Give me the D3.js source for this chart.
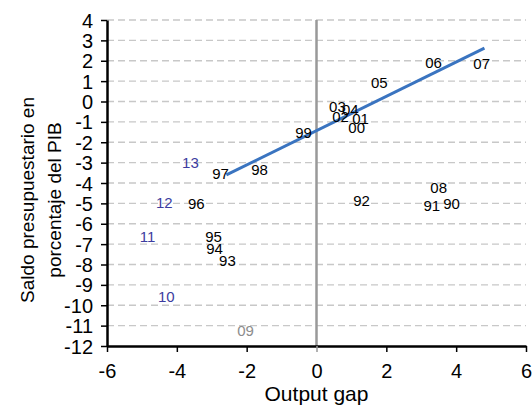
<!DOCTYPE html>
<html>
<head>
<meta charset="utf-8">
<script src="https://cdn.jsdelivr.net/npm/d3@7"></script>
<style>
  body { margin: 0; background: #fff; }
  text { font-family: "Liberation Sans", Arial, sans-serif; }
</style>
</head>
<body>
<div id="chart"></div>
<script>
// years shown as labels, with output gap (x) and budget balance (y)
var years = ["90","91","92","93","94","95","96","97","98","99","00","01","02","03","04","05","06","07","08","09","10","11","12","13"];
var gap = [3.87, 3.30, 1.29, -2.55, -2.92, -2.95, -3.44, -2.75, -1.63, -0.37, 1.15, 1.26, 0.69, 0.60, 0.97, 1.80, 3.35, 4.73, 3.50, -2.03, -4.30, -4.84, -4.36, -3.61];
var saldo = [-5.02, -5.12, -4.88, -7.82, -7.23, -6.64, -5.02, -3.55, -3.36, -1.54, -1.30, -0.86, -0.76, -0.27, -0.42, 0.91, 1.89, 1.84, -4.24, -11.25, -9.58, -6.64, -4.98, -3.01];
var labelColor = ["k","k","k","k","k","k","k","k","k","k","k","k","k","k","k","k","k","k","k","g","b","b","b","b"];
var trendX = [-2.58, 4.81];
var trendY = [-3.60, 2.62];
var xTicks = [-6, -4, -2, 0, 2, 4, 6];
var yTicks = d3.range(-12, 5, 1);

var width = 532, height = 411;
var margin = {left: 107, right: 6, top: 20, bottom: 65};

var svg = d3.select("#chart").append("svg")
    .attr("width", width).attr("height", height);

var x = d3.scaleLinear().domain([-6, 6]).range([margin.left, width - margin.right]);
var y = d3.scaleLinear().domain([-12, 4]).range([height - margin.bottom, margin.top]);

// dashed gridlines
svg.append("g").selectAll("line")
    .data(yTicks.filter(function (d) { return d > -12; }))
    .enter().append("line")
    .attr("x1", x(-6)).attr("x2", x(6))
    .attr("y1", function (d) { return y(d); })
    .attr("y2", function (d) { return y(d); })
    .style("stroke", "#c8c8c8")
    .style("stroke-width", 1.3)
    .style("stroke-dasharray", "7,4");

// vertical zero line
svg.append("line")
    .attr("x1", x(0)).attr("x2", x(0))
    .attr("y1", y(4)).attr("y2", y(-12))
    .style("stroke", "#999").style("stroke-width", 2.5);

// axes
var fmt = function (d) { return String(d); };
var xAxis = svg.append("g")
    .attr("transform", "translate(0," + y(-12) + ")")
    .call(d3.axisBottom(x).tickValues(xTicks).tickFormat(fmt).tickSize(6).tickSizeOuter(0));
var yAxis = svg.append("g")
    .attr("transform", "translate(" + x(-6) + ",0)")
    .call(d3.axisLeft(y).tickValues(yTicks).tickFormat(fmt).tickSize(6).tickSizeOuter(0));

[xAxis, yAxis].forEach(function (a) {
    a.select(".domain").style("stroke", "#000").style("stroke-width", 2.5);
    a.selectAll(".tick line").style("stroke", "#000").style("stroke-width", 1.5);
    a.selectAll(".tick text")
        .style("font-size", "20px")
        .style("fill", "#000")
        .attr("font-family", "Liberation Sans, Arial, sans-serif");
});
xAxis.selectAll(".tick text").attr("y", 32).attr("dy", 0);
yAxis.selectAll(".tick text").attr("x", -14).attr("dy", "0.35em");
xAxis.selectAll(".tick").filter(function (d) { return d === 0; }).select("line").style("stroke", "#999");

// trend line
svg.append("line")
    .attr("x1", x(trendX[0])).attr("y1", y(trendY[0]))
    .attr("x2", x(trendX[1])).attr("y2", y(trendY[1]))
    .style("stroke", "#3a74c0").style("stroke-width", 3);

// year labels
var colors = {k: "#000", b: "#3c3ca0", g: "#8c8c8c"};
svg.append("g").selectAll("text")
    .data(years)
    .enter().append("text")
    .attr("x", function (d, i) { return x(gap[i]); })
    .attr("y", function (d, i) { return y(saldo[i]); })
    .attr("text-anchor", "middle")
    .attr("dy", "0.35em")
    .style("font-size", "15px")
    .style("fill", function (d, i) { return colors[labelColor[i]]; })
    .text(function (d) { return d; });

// axis titles
svg.append("text")
    .attr("x", x(0)).attr("y", 401)
    .attr("text-anchor", "middle")
    .style("font-size", "21px")
    .text("Output gap");

var yt = svg.append("text")
    .attr("transform", "translate(0," + 200 + ") rotate(-90)")
    .attr("text-anchor", "middle")
    .style("font-size", "19px");
yt.append("tspan").attr("x", 0).attr("y", 34).text("Saldo presupuestario en");
yt.append("tspan").attr("x", 0).attr("y", 61).text("porcentaje del PIB");
</script>
</body>
</html>
